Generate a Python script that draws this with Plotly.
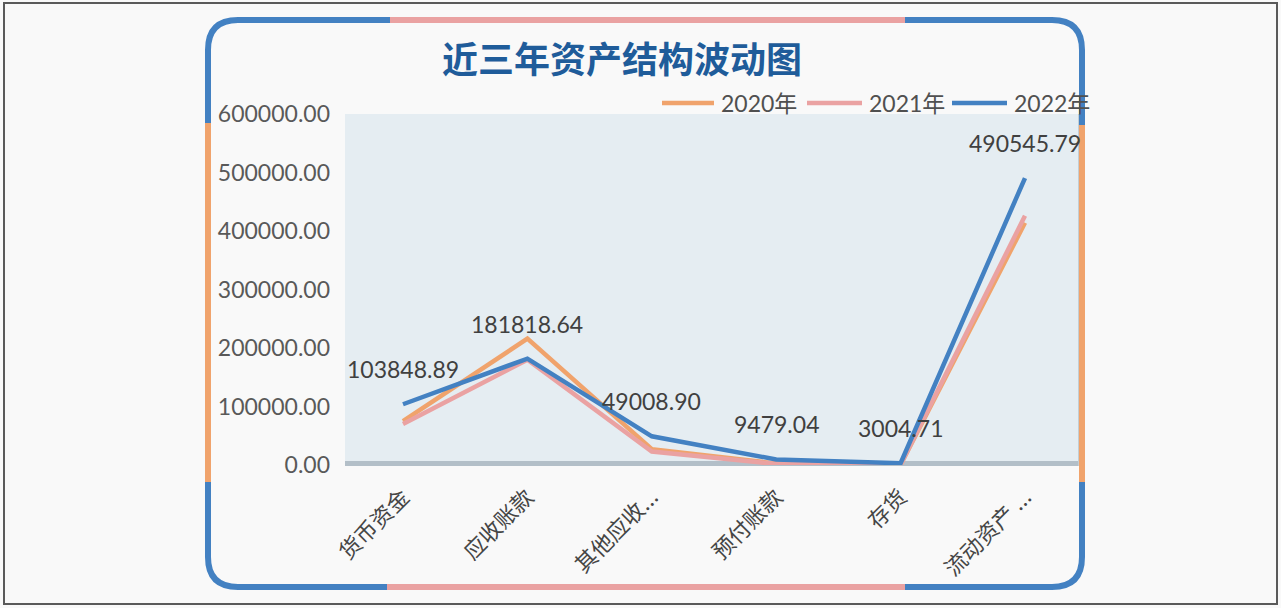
import plotly.graph_objects as go

categories = ["货币资金", "应收账款", "其他应收...", "预付账款", "存货", "流动资产 ..."]
series_names = ["2020年", "2021年", "2022年"]
values_2020 = [75000, 216000, 27000, 2500, 600, 414000]
values_2021 = [70000, 180000, 23000, 1800, 400, 426000]
values_2022 = [103848.89, 181818.64, 49008.90, 9479.04, 3004.71, 490545.79]
label_values = values_2022
y_ticks = [0, 100000, 200000, 300000, 400000, 500000, 600000]

ORANGE = "#F0A36C"
PINK = "#EAA2A2"
BLUE = "#4381C2"
colors = [ORANGE, PINK, BLUE]

W_PX, H_PX = 1281, 608
L, R, T, B = 345, 1083, 114, 465
PW, PH = R - L, B - T


def px(x):
    return (x - L) / PW


def py(y):
    return (B - y) / PH


fig = go.Figure()
for name, vals, col in zip(series_names, [values_2020, values_2021, values_2022], colors):
    fig.add_trace(go.Scatter(x=categories, y=vals, name=name, mode="lines",
                             line=dict(color=col, width=4.5), showlegend=False))

# data labels for 2022 series
for c, v in zip(categories, label_values):
    fig.add_annotation(x=c, y=v, text=f"{v:.2f}", showarrow=False, yshift=35,
                       font=dict(family="Lato, Noto Sans CJK SC", size=23, color="#404040"))

# title
fig.add_annotation(xref="paper", yref="paper", x=px(622), y=py(57), text="<b>近三年资产结构波动图</b>",
                   showarrow=False, xanchor="center", yanchor="middle",
                   font=dict(family="Noto Sans CJK SC", size=36, color="#1F5C9A"))

shapes = []
# outer thin frame
shapes.append(dict(type="rect", xref="paper", yref="paper", x0=px(4), x1=px(1277), y0=py(3), y1=py(604),
                   line=dict(color="#5A5A5A", width=2), layer="below"))
# plot floor / wall edges
shapes.append(dict(type="rect", xref="paper", yref="paper", x0=px(345), x1=px(1083), y0=py(466), y1=py(461),
                   fillcolor="#B3BFC8", line=dict(width=0), layer="below"))
shapes.append(dict(type="rect", xref="paper", yref="paper", x0=px(1078), x1=px(1083), y0=py(466), y1=py(114),
                   fillcolor="#C3CED5", line=dict(width=0), layer="below"))

# custom legend
legend_line_x = [(662, 714), (807, 862), (952, 1007)]
for (x0, x1), col, name in zip(legend_line_x, colors, series_names):
    shapes.append(dict(type="line", xref="paper", yref="paper", x0=px(x0), x1=px(x1), y0=py(103), y1=py(103),
                       line=dict(color=col, width=4.5)))
    fig.add_annotation(xref="paper", yref="paper", x=px(x1 + 5), y=py(103), text=name, showarrow=False,
                       xanchor="left", yanchor="middle",
                       font=dict(family="Lato, Noto Sans CJK SC", size=23, color="#505050"))


def P(x, y):
    return f"{px(x):.5f},{py(y):.5f}"


lx, rx, ty, by, r = 208, 1082, 20, 587, 30
segments = [
    (BLUE, f"M {P(lx,123)} L {P(lx,ty+r)} Q {P(lx,ty)} {P(lx+r,ty)} L {P(390,ty)}"),
    (PINK, f"M {P(390,ty)} L {P(905,ty)}"),
    (BLUE, f"M {P(905,ty)} L {P(rx-r,ty)} Q {P(rx,ty)} {P(rx,ty+r)} L {P(rx,125)}"),
    (ORANGE, f"M {P(rx,125)} L {P(rx,482)}"),
    (BLUE, f"M {P(rx,482)} L {P(rx,by-r)} Q {P(rx,by)} {P(rx-r,by)} L {P(905,by)}"),
    (PINK, f"M {P(905,by)} L {P(387,by)}"),
    (BLUE, f"M {P(387,by)} L {P(lx+r,by)} Q {P(lx,by)} {P(lx,by-r)} L {P(lx,482)}"),
    (ORANGE, f"M {P(lx,482)} L {P(lx,123)}"),
]
for col, path in segments:
    shapes.append(dict(type="path", xref="paper", yref="paper", path=path,
                       line=dict(color=col, width=6), layer="above"))

fig.update_layout(
    width=W_PX, height=H_PX,
    margin=dict(l=L, r=W_PX - R, t=T, b=H_PX - B, autoexpand=False),
    paper_bgcolor="#F9F9F9",
    plot_bgcolor="#E5EDF2",
    shapes=shapes,
    showlegend=False,
    xaxis=dict(showgrid=False, zeroline=False, showline=False, ticks="", tickangle=-45,
               ticklabelstandoff=14,
               tickfont=dict(family="Noto Sans CJK SC", size=22, color="#454545"), fixedrange=True),
    yaxis=dict(range=[0, 600000], tickvals=y_ticks, tickformat=".2f", showgrid=False, zeroline=False,
               showline=False, ticks="", ticklabelstandoff=14,
               tickfont=dict(family="Lato", size=23, color="#595959"), fixedrange=True),
)

fig.write_html("out.html", config={"displayModeBar": False},
               post_script="document.body.style.margin='0';document.body.style.overflow='hidden';")
